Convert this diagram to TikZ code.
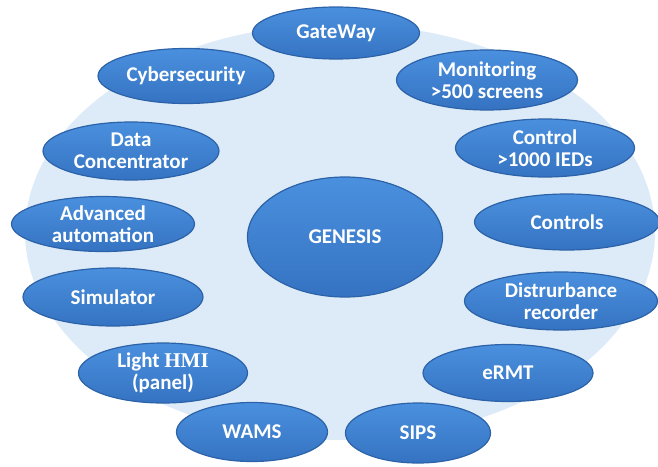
\documentclass[tikz,border=0pt]{standalone}
\usepackage{fontspec}
\setmainfont{Carlito}
\newfontfamily\hmifont{Liberation Serif}
\usepackage{tikz}
\usetikzlibrary{shapes.geometric}

\definecolor{bgblue}{HTML}{DDEBF8}
\definecolor{bubbletop}{HTML}{4A90DE}
\definecolor{bubblebot}{HTML}{3573C2}
\definecolor{bubbleline}{HTML}{2C62A8}

\begin{document}
\begin{tikzpicture}[x=1pt, y=1pt,
    bubble/.style={ellipse, draw=bubbleline, line width=1.2pt,
      top color=bubbletop, bottom color=bubblebot,
      text=white, font=\fontsize{21}{22.5}\selectfont\bfseries,
      align=center, inner sep=0pt}]

        \useasboundingbox (0,0) rectangle (658,-466);

        % Background disc
        \fill[bgblue] (340,-232) ellipse [x radius=315, y radius=208];

        % Centre
        \node[bubble, minimum width=195, minimum height=120] (genesis) at (345,-237) {GENESIS};

        % Ring of functions
        \node[bubble, minimum width=167, minimum height=52] (gateway) at (336,-33) {GateWay};
        \node[bubble, minimum width=181, minimum height=60] (monitoring) at (487,-80) {Monitoring\\ >500 screens};
        \node[bubble, minimum width=179, minimum height=58] (control) at (545,-148) {Control\\ >1000 IEDs};
        \node[bubble, minimum width=185, minimum height=56] (controls) at (567,-222) {Controls};
        \node[bubble, minimum width=193, minimum height=58] (recorder) at (561,-301) {Distrurbance\\ recorder};
        \node[bubble, minimum width=170, minimum height=57] (ermt) at (508,-373) {eRMT};
        \node[bubble, minimum width=145, minimum height=60] (sips) at (418,-433) {SIPS};
        \node[bubble, minimum width=151, minimum height=59] (wams) at (252,-432) {WAMS};
        \node[bubble, minimum width=169, minimum height=60] (hmi) at (163,-373) {Light {\hmifont HMI}\\ (panel)};
        \node[bubble, minimum width=180, minimum height=58] (simulator) at (113,-297) {Simulator};
        \node[bubble, minimum width=183, minimum height=55] (automation) at (103,-224) {Advanced\\ automation};
        \node[bubble, minimum width=176, minimum height=58] (concentrator) at (131,-151) {Data\\ Concentrator};
        \node[bubble, minimum width=176, minimum height=55] (cyber) at (186,-76) {Cybersecurity};
  \end{tikzpicture}
\end{document}
